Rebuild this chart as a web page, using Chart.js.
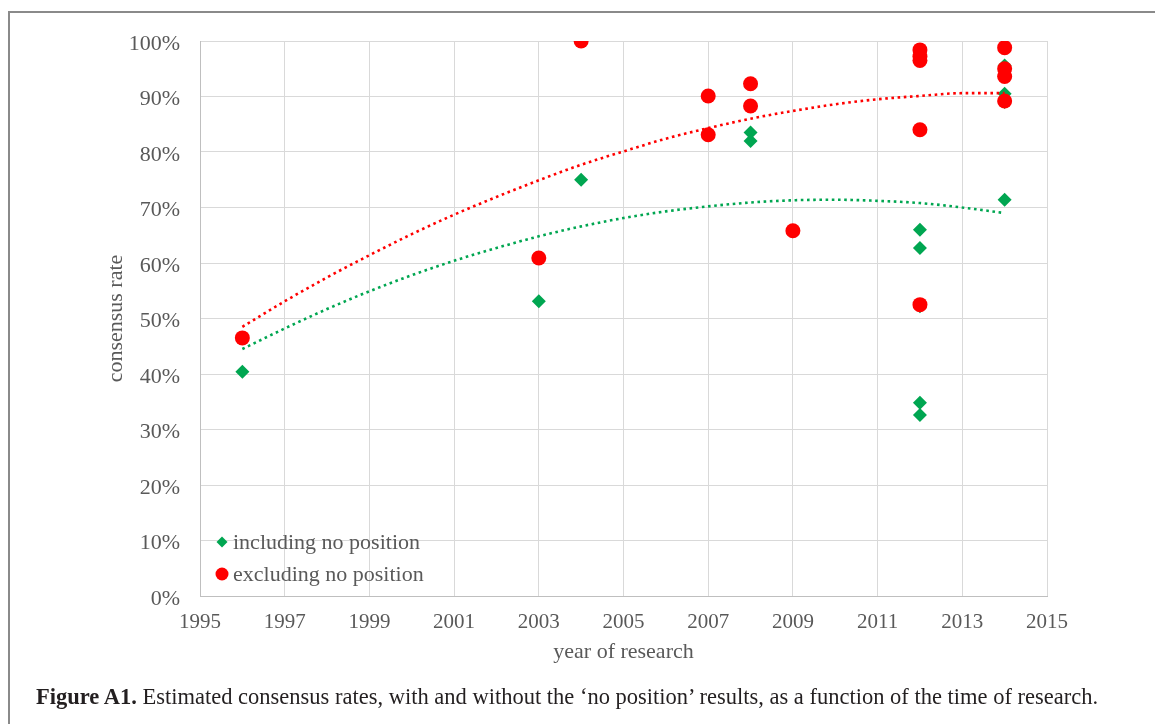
<!DOCTYPE html>
<html>
<head>
<meta charset="utf-8">
<script src="https://cdn.jsdelivr.net/npm/chart.js@4/dist/chart.umd.min.js"></script>
<style>
  html, body { margin: 0; padding: 0; background: #fff; }
  #wrap { position: relative; width: 1155px; height: 724px; overflow: hidden; }
  #frame { position: absolute; left: 8px; top: 11px; width: 1300px; height: 900px; border: 2px solid #8a8a8a; box-sizing: border-box; }
  canvas { position: absolute; left: 0; top: 0; }
  #caption { position: absolute; left: 36px; top: 684px; font-family: "Liberation Serif", "DejaVu Serif", serif; font-size: 22.5px; color: #231f20; white-space: nowrap; }
</style>
</head>
<body>
<div id="wrap">
  <div id="frame"></div>
  <canvas id="c" width="1155" height="724"></canvas>
  <div id="caption"><b>Figure A1.</b> Estimated consensus rates, with and without the ‘no position’ results, as a function of the time of research.</div>
</div>
<script>
// ---- data ----
const inclYears  = [1996, 2003, 2004, 2007, 2008, 2008, 2009, 2012, 2012, 2012, 2012, 2012, 2014, 2014, 2014, 2014];
const inclValues = [40.4, 53.1, 75.0, 83.0, 83.5, 82.0, 65.7, 66.0, 62.7, 52.2, 34.8, 32.6, 95.6, 90.5, 89.0, 71.4];
const exclYears  = [1996, 2003, 2004, 2007, 2007, 2008, 2008, 2009, 2012, 2012, 2012, 2012, 2012, 2014, 2014, 2014, 2014];
const exclValues = [46.5, 60.9, 100, 90.1, 83.1, 92.3, 88.3, 65.8, 98.4, 97.2, 96.5, 84.0, 52.5, 98.8, 95.0, 93.6, 89.2];
// trendlines (estimated along the dotted curves)
const trendYears = [1996, 1997, 1998, 1999, 2000, 2001, 2002, 2003, 2004, 2005, 2006, 2007, 2008, 2009, 2010, 2011, 2012, 2013, 2014];
const inclTrend  = [44.5, 48.2, 51.7, 54.9, 57.8, 60.4, 62.7, 64.8, 66.6, 68.1, 69.3, 70.2, 70.9, 71.3, 71.4, 71.2, 70.8, 70.0, 69.0];
const exclTrend  = [48.5, 53.1, 57.4, 61.4, 65.2, 68.7, 71.9, 74.9, 77.7, 80.1, 82.4, 84.3, 86.0, 87.4, 88.6, 89.5, 90.1, 90.6, 90.6];
const seriesNames = ['including no position', 'excluding no position'];
const xTitle = 'year of research';
const yTitle = 'consensus rate';

const GREEN = '#00a651';
const RED = '#ff0000';
const TEXT = '#595959';
const FONT = '"Liberation Serif", "Times New Roman", serif';

const pts = (xs, ys) => xs.map((x, i) => ({ x: x, y: ys[i] }));

const legendPlugin = {
  id: 'inlineLegend',
  afterDraw(chart) {
    const ctx = chart.ctx;
    ctx.save();
    ctx.font = '22px ' + FONT;
    ctx.textBaseline = 'middle';
    const gx = 222, gy = 542;
    ctx.fillStyle = GREEN;
    ctx.beginPath();
    ctx.moveTo(gx, gy - 5.5); ctx.lineTo(gx + 5.5, gy); ctx.lineTo(gx, gy + 5.5); ctx.lineTo(gx - 5.5, gy); ctx.closePath();
    ctx.fill();
    ctx.fillStyle = TEXT;
    ctx.fillText(seriesNames[0], 233, gy + 1);
    const rx = 222, ry = 574;
    ctx.fillStyle = RED;
    ctx.beginPath(); ctx.arc(rx, ry, 6.5, 0, Math.PI * 2); ctx.fill();
    ctx.fillStyle = TEXT;
    ctx.fillText(seriesNames[1], 233, ry + 1);
    ctx.restore();
  }
};

new Chart(document.getElementById('c'), {
  type: 'scatter',
  data: {
    datasets: [
      { label: seriesNames[1] + ' trend', type: 'line', data: pts(trendYears, exclTrend), borderColor: RED, borderWidth: 2.6, borderDash: [2.6, 3.6], pointRadius: 0, tension: 0.4, cubicInterpolationMode: 'monotone', fill: false, order: 0 },
      { label: seriesNames[0] + ' trend', type: 'line', data: pts(trendYears, inclTrend), borderColor: GREEN, borderWidth: 2.6, borderDash: [2.6, 3.6], pointRadius: 0, tension: 0.4, cubicInterpolationMode: 'monotone', fill: false, order: 0 },
      { label: seriesNames[1], data: pts(exclYears, exclValues), pointStyle: 'circle', pointRadius: 7.5, backgroundColor: RED, borderColor: RED, borderWidth: 0, order: 1 },
      { label: seriesNames[0], data: pts(inclYears, inclValues), pointStyle: 'rectRot', pointRadius: 7, backgroundColor: GREEN, borderColor: GREEN, borderWidth: 0, order: 2 }
    ]
  },
  options: {
    responsive: false,
    animation: false,
    layout: { padding: { left: 0, right: 108, top: 41, bottom: 48 } },
    plugins: { legend: { display: false }, tooltip: { enabled: false }, title: { display: false } },
    scales: {
      x: {
        type: 'linear', min: 1995, max: 2015,
        ticks: { stepSize: 2, color: TEXT, font: { family: FONT, size: 21 }, padding: 14, maxRotation: 0, callback: v => String(v) },
        grid: { color: '#d9d9d9', lineWidth: 1, drawTicks: false },
        border: { color: '#bfbfbf', width: 1 },
        title: { display: true, text: xTitle, color: TEXT, font: { family: FONT, size: 22 }, padding: { top: 0, bottom: 11 } },
        afterFit(s) { s.height = 80; }
      },
      y: {
        type: 'linear', min: 0, max: 100,
        ticks: { stepSize: 10, color: TEXT, font: { family: FONT, size: 22 }, padding: 20, labelOffset: 3, callback: v => v + '%' },
        grid: { color: '#d9d9d9', lineWidth: 1, drawTicks: false },
        border: { color: '#bfbfbf', width: 1 },
        title: { display: true, text: yTitle, color: TEXT, font: { family: FONT, size: 22 }, padding: { top: 103, bottom: 0 } },
        afterFit(s) { s.width = 200; }
      }
    }
  },
  plugins: [legendPlugin]
});
</script>
</body>
</html>
